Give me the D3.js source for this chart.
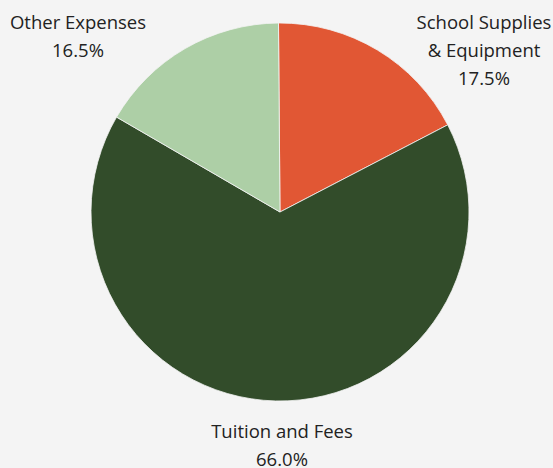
<!DOCTYPE html>
<html>
<head>
<meta charset="utf-8">
<script src="https://cdn.jsdelivr.net/npm/d3@7"></script>
<style>
  html, body { margin: 0; padding: 0; background: #f4f4f4; }
  svg { display: block; }
</style>
</head>
<body>
<svg id="chart" width="553" height="468"></svg>
<script>
// Share of spending by category (percent)
const categories = ["School Supplies\n& Equipment", "Tuition and Fees", "Other Expenses"];
const shares = [17.5, 66.0, 16.5];
const colors = ["#e15734", "#324c2a", "#adcfa6"];

// Layout
const width = 553, height = 468;
const cx = 280, cy = 212, radius = 189;
const fontSize = 18.5, lineGap = 28;
// Label block anchors (centre x, first baseline y) per category
const labelAnchors = [[484, 29], [282, 438], [78, 29]];

const svg = d3.select("#chart");
svg.append("rect").attr("width", width).attr("height", height).attr("fill", "#f4f4f4");

const pie = d3.pie().sort(null).value(d => d).startAngle(-0.008).endAngle(2 * Math.PI - 0.008);
const arc = d3.arc().innerRadius(0).outerRadius(radius);

const g = svg.append("g").attr("transform", `translate(${cx},${cy})`);
g.selectAll("path")
  .data(pie(shares))
  .join("path")
  .attr("d", arc)
  .attr("fill", (d, i) => colors[i])
  .attr("stroke", "#f4f4f4")
  .attr("stroke-width", 0.8);

const labels = svg.append("g")
  .attr("font-family", "'Open Sans', sans-serif")
  .attr("font-size", fontSize)
  .attr("fill", "#222")
  .attr("text-anchor", "middle");

categories.forEach((c, i) => {
  const lines = c.split("\n").concat([shares[i].toFixed(1) + "%"]);
  const t = labels.append("text")
    .attr("x", labelAnchors[i][0])
    .attr("y", labelAnchors[i][1]);
  lines.forEach((ln, j) => {
    t.append("tspan")
      .attr("x", labelAnchors[i][0])
      .attr("dy", j === 0 ? 0 : lineGap)
      .text(ln);
  });
});
</script>
</body>
</html>
